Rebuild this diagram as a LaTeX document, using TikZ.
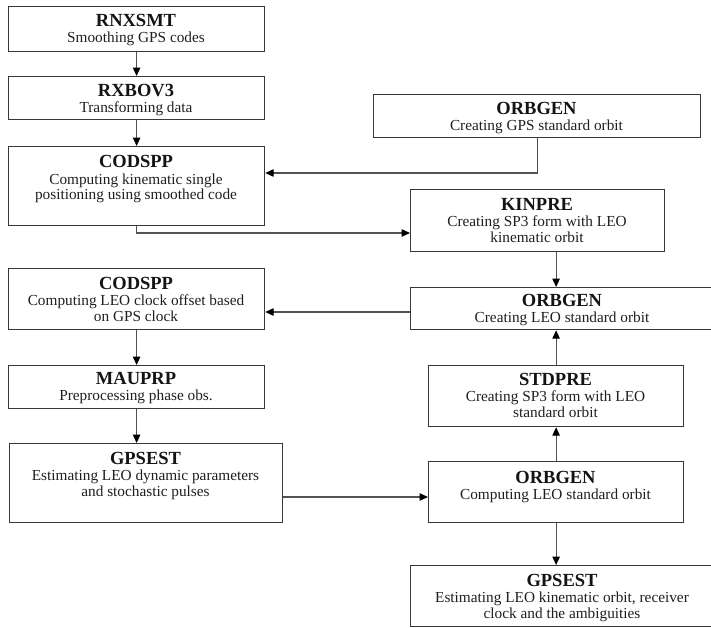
\documentclass[tikz,border=0pt]{standalone}
\usepackage{fontspec}
\setmainfont{Liberation Serif}
\usetikzlibrary{arrows.meta}
\tikzset{
  boxst/.style={draw=black!78, line width=1.2pt, inner sep=0pt, anchor=north west},
  conn/.style={draw=black!68, line width=1.2pt, -{Triangle[length=8.5pt,width=7.5pt,color=black]}},
  ttl/.style={anchor=base, inner sep=0pt, text=black!92, font=\fontsize{18.5}{19}\selectfont\bfseries},
  sub/.style={anchor=base, inner sep=0pt, text=black!88, font=\fontsize{15.3}{16}\selectfont},
}
\newcommand\mkbox[5]{\node[boxst, minimum width={(#4)-(#2)}, minimum height={(#5)-(#3)}] (#1) at (#2,#3) {};}
\begin{document}
\begin{tikzpicture}[x=1pt,y=-1pt]
\path[use as bounding box, clip] (0,0) rectangle (711,627);
\fill[white] (0,0) rectangle (711,627);
% boxes
\mkbox{A}{8}{6}{264}{51}
\mkbox{B}{8}{76}{264}{119}
\mkbox{C}{8}{146}{264}{225}
\mkbox{D}{373}{94}{700}{137}
\mkbox{E}{410}{189}{664}{251}
\mkbox{F}{410}{287}{714}{329}
\mkbox{G}{8}{268}{264}{329}
\mkbox{H}{8}{365}{264}{408}
\mkbox{I}{9}{443}{282}{522}
\mkbox{J}{428}{365}{683}{426}
\mkbox{K}{428}{461}{683}{522}
\mkbox{L}{410}{565}{714}{626}
% texts
\node[ttl] (At) at (136,26) {RNXSMT};
\node[sub] (As) at (136,42.5) {Smoothing GPS codes};
\node[ttl] (Bt) at (136,96) {RXBOV3};
\node[sub] (Bs) at (136,112.5) {Transforming data};
\node[ttl] (Ct) at (136,167) {CODSPP};
\node[sub] (Cs1) at (136,184) {Computing kinematic single};
\node[sub] (Cs2) at (136,199.5) {positioning using smoothed code};
\node[ttl] (Dt) at (536.5,114) {ORBGEN};
\node[sub] (Ds) at (536.5,130.5) {Creating GPS standard orbit};
\node[ttl] (Et) at (537,210) {KINPRE};
\node[sub] (Es1) at (537,226.5) {Creating SP3 form with LEO};
\node[sub] (Es2) at (537,242) {kinematic orbit};
\node[ttl] (Ft) at (562,306) {ORBGEN};
\node[sub] (Fs) at (562,322.5) {Creating LEO standard orbit};
\node[ttl] (Gt) at (136,289) {CODSPP};
\node[sub] (Gs1) at (136,305.5) {Computing LEO clock offset based};
\node[sub] (Gs2) at (136,321) {on GPS clock};
\node[ttl] (Ht) at (136,384) {MAUPRP};
\node[sub] (Hs) at (136,400.5) {Preprocessing phase obs.};
\node[ttl] (It) at (145.5,464) {GPSEST};
\node[sub] (Is1) at (145.5,480.5) {Estimating LEO dynamic parameters};
\node[sub] (Is2) at (145.5,496) {and stochastic pulses};
\node[ttl] (Jt) at (555.5,385) {STDPRE};
\node[sub] (Js1) at (555.5,401.5) {Creating SP3 form with LEO};
\node[sub] (Js2) at (555.5,417) {standard orbit};
\node[ttl] (Kt) at (555.5,483) {ORBGEN};
\node[sub] (Ks) at (555.5,499.5) {Computing LEO standard orbit};
\node[ttl] (Lt) at (562,586) {GPSEST};
\node[sub] (Ls1) at (562,602.5) {Estimating LEO kinematic orbit, receiver};
\node[sub] (Ls2) at (562,618) {clock and the ambiguities};
% helper coordinates
\coordinate (yDC) at (0,173);
\coordinate (yCE) at (0,233);
\coordinate (yFG) at (0,312);
\coordinate (yIK) at (0,497);
% connectors
\draw[conn] (A.south) -- (B.north);
\draw[conn] (B.south) -- (C.north);
\draw[conn] (D.south) |- (C.east |- yDC);
\draw[conn] (C.south) |- (E.west |- yCE);
\draw[conn] (E.south -| J.north) -- (F.north -| J.north);
\draw[conn] (F.west |- yFG) -- (G.east |- yFG);
\draw[conn] (G.south) -- (H.north);
\draw[conn] (H.south) -- (I.north -| H.south);
\draw[conn] (I.east |- yIK) -- (K.west |- yIK);
\draw[conn] (K.north) -- (J.south);
\draw[conn] (J.north) -- (F.south -| J.north);
\draw[conn] (K.south) -- (L.north -| K.south);
\end{tikzpicture}
\end{document}
